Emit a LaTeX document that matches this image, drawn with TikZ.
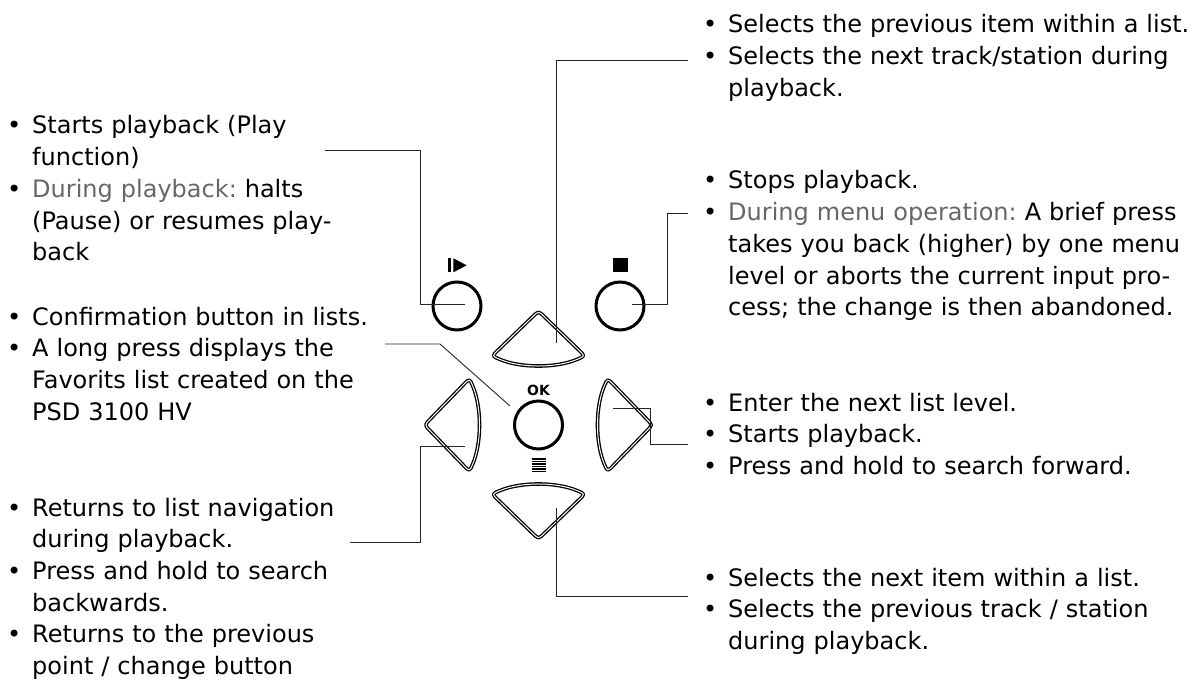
\documentclass[tikz,border=0pt]{standalone}
\usepackage{fontspec}
\setmainfont{DejaVu Sans}
\usetikzlibrary{positioning}
\usetikzlibrary{arrows.meta}
\frenchspacing

\newcommand{\bul}{\makebox[25pt][l]{•}}
\newcommand{\ind}{\hspace*{25pt}}
\newcommand{\greytxt}[1]{\textcolor{black!60}{#1}}

\tikzset{
    desc/.style={anchor=base west, inner sep=0pt, text width=520pt, align=left,
        font=\fontsize{24}{31.7}\selectfont\frenchspacing},
    lead/.style={line width=0.9pt, black!85},
    btn/.style={circle, draw, line width=3pt, minimum size=48pt, inner sep=0pt},
    pad/.style={draw, double, line width=1.3pt, double distance=1pt, line join=round},
    pics/arrowpad/.style={code={
        \draw[pad] (-23.25,-91.5) -- (-5.75,-108.43) .. controls (0,-114) .. (5.75,-108.43)
            -- (40.75,-74.57) .. controls (46.5,-69) .. (39.15,-65.84)
            .. controls (17.9,-56.7) and (-17.9,-56.7) .. (-39.15,-65.84)
            .. controls (-46.5,-69) .. (-40.75,-74.57) -- cycle;
    }}
}

\begin{document}
\begin{tikzpicture}[x=1pt, y=-1pt]
    \useasboundingbox (0,0) rectangle (1195,682);

    % keys
    \node[btn] (play) at (457,306) {};
    \node[btn] (stop) at (620,306) {};
    \node[btn] (ok) at (538.5,425) {};
    \pic (padup) at (538.5,425) {arrowpad};
    \pic[rotate=90] (padleft) at (538.5,425) {arrowpad};
    \pic[rotate=-90] (padright) at (538.5,425) {arrowpad};
    \pic[rotate=180] (paddown) at (538.5,425) {arrowpad};

    \fill (447.7,258.3) rectangle (450.7,272.3);
    \fill (453.3,258.3) -- (453.3,272.3) -- (466.7,265.3) -- cycle;
    \fill (613.3,258.3) rectangle (627.7,272.3);
    \node[font=\bfseries\fontsize{14}{14}\selectfont, inner sep=0pt] (oklabel) at (538.5,390) {OK};
    \foreach \i in {0,...,5}
        \draw[line width=1.1pt] (531.7,459+2.5*\i) -- (545.7,459+2.5*\i);

    % texts
    \node[desc] (playtxt) at (7,134) {\bul Starts playback (Play\\
        \ind function)\\
        \bul \greytxt{During playback:} halts\\
        \ind (Pause) or resumes play-\\
        \ind back};
    \node[desc] (oktxt) at (7,325) {\bul Confirmation button in lists.\\
        \bul A long press displays the\\
        \ind Favorits list created on the\\
        \ind PSD 3100 HV};
    \node[desc] (lefttxt) at (7,516) {\bul Returns to list navigation\\
        \ind during playback.\\
        \bul Press and hold to search\\
        \ind backwards.\\
        \bul Returns to the previous\\
        \ind point / change button};
    \node[desc] (uptxt) at (703,33) {\bul Selects the previous item within a list.\\
        \bul Selects the next track/station during\\
        \ind playback.};
    \node[desc] (stoptxt) at (703,189) {\bul Stops playback.\\
        \bul \greytxt{During menu operation:} A brief press\\
        \ind takes you back (higher) by one menu\\
        \ind level or aborts the current input pro-\\
        \ind cess; the change is then abandoned.};
    \node[desc] (righttxt) at (703,411) {\bul Enter the next list level.\\
        \bul Starts playback.\\
        \bul Press and hold to search forward.};
    \node[desc] (downtxt) at (703,586) {\bul Selects the next item within a list.\\
        \bul Selects the previous track / station\\
        \ind during playback.};

    % leader lines
    \coordinate (playend) at (465,304);
    \coordinate (playlead) at (325,150);
    \coordinate (upend) at (556.7,343);
    \coordinate (uplead) at (688,60);
    \coordinate (stopend) at (632,304);
    \coordinate (stoplead) at (688,213);
    \coordinate (okend) at (510,406);
    \coordinate (oklead) at (385,344);
    \coordinate (leftend) at (465,446);
    \coordinate (leftlead) at (350,542);
    \coordinate (rightend) at (613,408);
    \coordinate (rightlead) at (688,444);
    \coordinate (downend) at (556.7,508);
    \coordinate (downlead) at (688,596);

    \draw[lead] (playend) -- ++(-44.3,0) |- (playlead);
    \draw[lead] (upend) |- (uplead);
    \draw[lead] (stopend) -- ++(35,0) |- (stoplead);
    \draw[lead] (oklead) -- ++(55,0) -- (okend);
    \draw[lead] (leftend) -- ++(-44.3,0) |- (leftlead);
    \draw[lead] (rightend) -- ++(37,0) |- (rightlead);
    \draw[lead] (downend) |- (downlead);
\end{tikzpicture}
\end{document}
